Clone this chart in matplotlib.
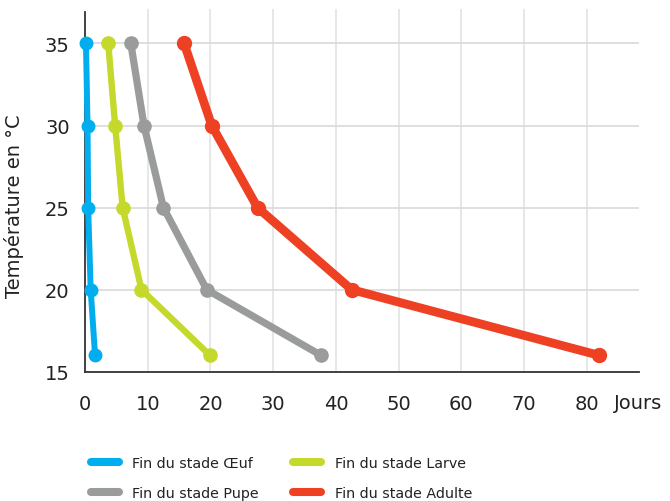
import matplotlib
matplotlib.use("Agg")
from matplotlib import pyplot as plt
from matplotlib.lines import Line2D

plt.rcParams['font.family'] = ['DejaVu Sans']

# data
temp = [35, 30, 25, 20, 16]
oeuf = [0.15, 0.4, 0.5, 0.9, 1.6]
larve = [3.7, 4.8, 6.0, 9.0, 19.9]
pupe = [7.3, 9.4, 12.5, 19.4, 37.6]
adulte = [15.8, 20.2, 27.5, 42.5, 81.9]

labels = ["Fin du stade Œuf", "Fin du stade Larve",
          "Fin du stade Pupe", "Fin du stade Adulte"]
colors = ["#00AEEF", "#C5D92D", "#9A9C9C", "#EE4023"]
xticks = [0, 10, 20, 30, 40, 50, 60, 70, 80]
yticks = [15, 20, 25, 30, 35]

# line styles per series
widths = [4.3, 4.6, 5.2, 6.3]
msizes = [9, 9.5, 9.5, 10]

fig = plt.figure(figsize=(6.7, 5.02), dpi=100)
ax = fig.add_axes([0.1269, 0.2576, 0.8268, 0.7224])

for xs, c, w, m in zip([oeuf, larve, pupe, adulte], colors, widths, msizes):
	ax.plot(xs, temp, color=c, lw=w, marker="o", ms=m,
		solid_capstyle="round", zorder=3, clip_on=False)

ax.set_xlim(0, 88.3)
ax.set_ylim(15, 37.1)
ax.set_xticks(xticks)
ax.set_yticks(yticks)
ax.tick_params(length=0, labelsize=14, colors="#222222")
ax.tick_params(axis="x", pad=16)
ax.tick_params(axis="y", pad=11)

# grid, skipping the lines lying on the axes
for x in xticks[1:]:
	ax.axvline(x, color="#e3e3e3", lw=1.2, zorder=0)
for y in yticks[1:]:
	ax.axhline(y, color="#d9d9d9", lw=1.2, zorder=0)

for s in ["top", "right"]:
	ax.spines[s].set_visible(False)
ax.spines["left"].set_bounds(15, 36.9)
for s in ["left", "bottom"]:
	ax.spines[s].set_color("#333333")
	ax.spines[s].set_linewidth(1.3)

ax.set_ylabel("Température en °C", fontsize=14, color="#222222")
ax.yaxis.set_label_coords(-0.11, 0.46)
ax.text(0.955, -0.084, "Jours", transform=ax.transAxes, fontsize=14,
	color="#222222", ha="left", va="center")

# legend, column-wise order so rows read Oeuf/Larve then Pupe/Adulte
handles = [Line2D([], [], color=c, lw=5.8, solid_capstyle="round") for c in colors]
order = [0, 2, 1, 3]
fig.legend([handles[i] for i in order], [labels[i] for i in order],
	ncol=2, loc="center left", bbox_to_anchor=(0.1354, 0.0458),
	frameon=False, handlelength=1.95, handletextpad=0.95,
	columnspacing=2.4, labelspacing=1.15, borderpad=0, borderaxespad=0,
	prop={"size": 10.3})
for t in fig.legends[0].get_texts():
	t.set_color("#222222")

fig.savefig("out.png", dpi=100)
